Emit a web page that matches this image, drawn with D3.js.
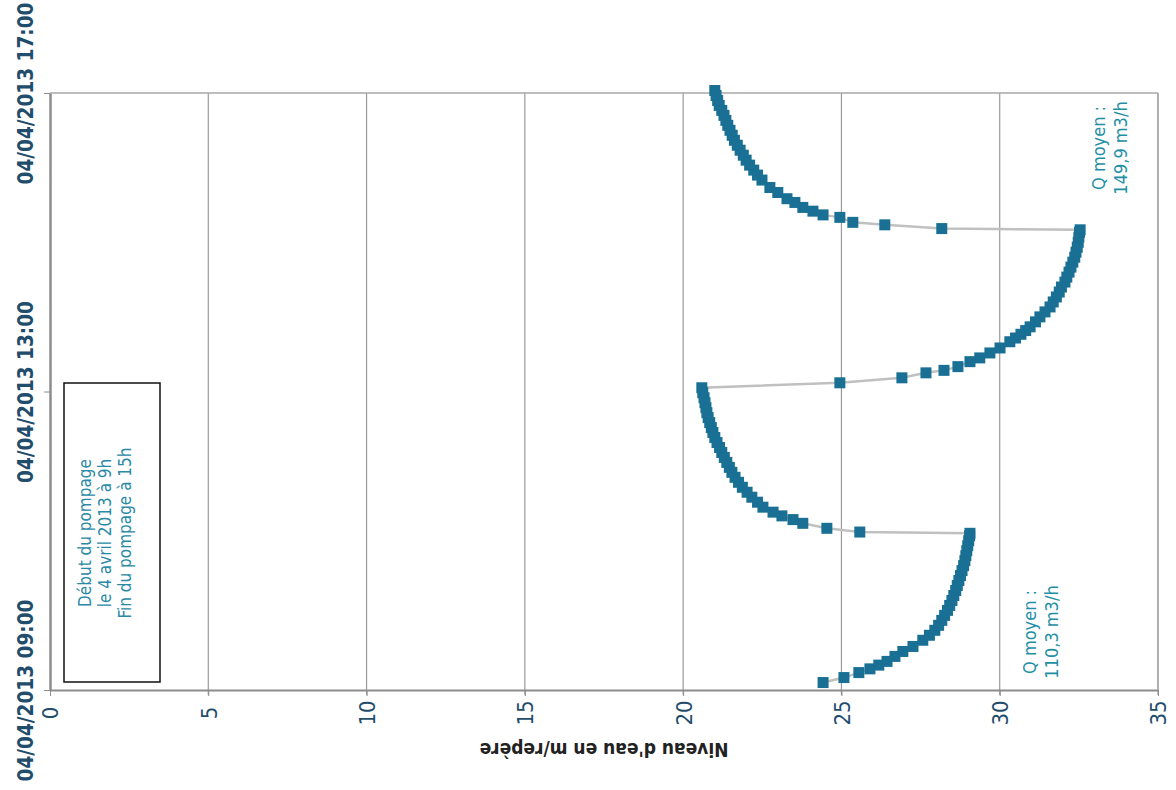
<!DOCTYPE html>
<html>
<head>
<meta charset="utf-8">
<script src="https://cdn.jsdelivr.net/npm/d3@7"></script>
<style>
  html, body { margin: 0; padding: 0; background: #fff; }
  svg { display: block; }
  text { font-family: "DejaVu Sans Condensed", "DejaVu Sans", sans-serif; font-stretch: condensed; }
</style>
</head>
<body>
<svg id="chart" width="1176" height="790"></svg>
<script>
// ---- data (minutes after 04/04/2013 09:00, water level in m/repère) ----
const minutes = [
  6,10,14,17,20,23,27,31,35,40,44,48,52,56,60,64,68,72,76,80,84,88,92,96,100,104,108,112,116,120,124,126,
  127,130,134,137,140,143,147,151,155,159,163,167,171,175,179,183,187,191,195,199,203,207,211,215,219,223,227,231,235,239,243,
  247,251,255,257,260,264,267,271,275,280,283,286,289,292,296,300,304,308,312,316,320,324,328,332,336,340,344,348,352,356,360,364,368,370,
  371,374,376,380,382,385,388,392,395,400,404,410,414,418,422,426,430,434,438,442,446,450,454,458,462,466,470,474,478,482
];
const levels = [
  24.42,25.08,25.55,25.9,26.18,26.44,26.69,26.94,27.26,27.57,27.78,27.95,28.07,28.17,28.26,28.35,28.42,28.49,28.55,28.61,28.66,28.71,28.76,28.81,28.86,28.9,28.93,28.96,28.99,29.02,29.05,29.06,
  25.58,24.54,23.78,23.47,23.12,22.84,22.52,22.35,22.17,22.02,21.87,21.75,21.64,21.54,21.46,21.38,21.3,21.22,21.15,21.07,21.0,20.94,20.89,20.84,20.79,20.75,20.72,20.69,20.66,20.62,20.59,
  24.95,26.91,27.67,28.24,28.68,29.06,29.37,29.69,30.01,30.32,30.5,30.67,30.82,30.96,31.13,31.27,31.43,31.59,31.69,31.79,31.88,31.95,32.06,32.12,32.19,32.25,32.31,32.37,32.41,32.45,32.48,32.5,32.52,32.54,
  28.17,26.37,25.36,24.95,24.42,24.1,23.78,23.53,23.28,22.99,22.74,22.49,22.35,22.23,22.1,21.99,21.9,21.8,21.71,21.62,21.55,21.48,21.41,21.35,21.29,21.22,21.14,21.09,21.04,21.0
];
const levelTicks = [0, 5, 10, 15, 20, 25, 30, 35];
const timeTicks = ["2013-04-04T09:00", "2013-04-04T13:00", "2013-04-04T17:00"];
const axisTitle = "Niveau d'eau en m/repère";
const noteLines = ["Début du pompage", "le 4 avril 2013 à 9h", "Fin du pompage à 15h"];
const q1Lines = ["Q moyen :", "110,3 m3/h"];
const q2Lines = ["Q moyen :", "149,9 m3/h"];

// ---- layout ----
const svg = d3.select("#chart");
const L = 50, R = 1158, T = 93, B = 690;
const t0 = new Date(2013, 3, 4, 9, 0);
const parse = d3.timeParse("%Y-%m-%dT%H:%M");
const x = d3.scaleLinear().domain([0, 35]).range([L, R]);
const y = d3.scaleTime().domain([parse(timeTicks[0]), parse(timeTicks[2])]).range([B, T]);
const data = minutes.map((m, i) => ({ time: d3.timeMinute.offset(t0, m), level: levels[i] }));

svg.append("rect").attr("width", 1176).attr("height", 790).attr("fill", "#fff");

// vertical gridlines
svg.append("g").selectAll("line").data(levelTicks.slice(1)).join("line")
  .attr("x1", d => x(d)).attr("x2", d => x(d))
  .attr("y1", T).attr("y2", B + 5)
  .attr("stroke", "#9a9a9a").attr("stroke-width", 1.2);

// frame top
svg.append("line").attr("x1", L).attr("x2", R).attr("y1", T).attr("y2", T)
  .attr("stroke", "#a8a8a8").attr("stroke-width", 1.5);

// bottom axis (level)
const gx = svg.append("g").attr("transform", `translate(0,${B})`)
  .call(d3.axisBottom(x).tickValues(levelTicks).tickSize(6).tickSizeOuter(0));
gx.select(".domain").attr("stroke", "#8c8c8c").attr("stroke-width", 2);
gx.selectAll(".tick line").attr("stroke", "#8c8c8c");
gx.selectAll(".tick text")
  .attr("transform", "rotate(-90)")
  .attr("x", -23).attr("y", 0).attr("dy", "0.36em")
  .attr("text-anchor", "middle")
  .attr("fill", "#1f4d6b").attr("font-size", 22).attr("font-weight", 500);

// left axis (time)
const gy = svg.append("g").attr("transform", `translate(${L},0)`)
  .call(d3.axisLeft(y).tickValues(timeTicks.map(parse)).tickSize(6).tickSizeOuter(0)
    .tickFormat(d3.timeFormat("%d/%m/%Y %H:%M")));
gy.select(".domain").attr("stroke", "#8c8c8c").attr("stroke-width", 2.5);
gy.selectAll(".tick line").attr("stroke", "#8c8c8c");
gy.selectAll(".tick text")
  .attr("transform", "rotate(-90)")
  .attr("x", 0).attr("y", -25).attr("dy", "0.36em")
  .attr("text-anchor", "middle")
  .attr("fill", "#1f4d6b").attr("font-size", 21).attr("font-weight", 600)
  .attr("textLength", 182).attr("lengthAdjust", "spacingAndGlyphs");

// axis title (upside down)
svg.append("text")
  .attr("transform", `translate(${(L + R) / 2},750) rotate(180)`)
  .attr("text-anchor", "middle").attr("dy", "0.36em")
  .attr("fill", "#222").attr("font-size", 19).attr("font-weight", 700)
  .text(axisTitle);

// right border
svg.append("line").attr("x1", R).attr("x2", R).attr("y1", T).attr("y2", B)
  .attr("stroke", "#a8a8a8").attr("stroke-width", 1.5);

// data line
svg.append("path").datum(data)
  .attr("fill", "none").attr("stroke", "#c0c0c0").attr("stroke-width", 2.5)
  .attr("d", d3.line().x(d => x(d.level)).y(d => y(d.time)));

// markers
const ms = 11;
svg.append("g").selectAll("rect").data(data).join("rect")
  .attr("x", d => x(d.level) - ms / 2).attr("y", d => y(d.time) - ms / 2)
  .attr("width", ms).attr("height", ms)
  .attr("fill", "#197094");

// annotation box
svg.append("rect").attr("x", 64).attr("y", 383).attr("width", 96).attr("height", 299)
  .attr("fill", "#fff").attr("stroke", "#111").attr("stroke-width", 1.5);
svg.append("text")
  .attr("transform", "translate(85,533) rotate(-90)")
  .attr("text-anchor", "middle").attr("fill", "#2a8aa6").attr("font-size", 17)
  .selectAll("tspan").data(noteLines).join("tspan")
  .attr("x", 0).attr("dy", (d, i) => i === 0 ? "0.36em" : "1.18em").text(d => d);

// Q labels
function qLabel(lines, cx, cy) {
  svg.append("text")
    .attr("transform", `translate(${cx},${cy}) rotate(-90)`)
    .attr("text-anchor", "middle").attr("fill", "#1f8fa6").attr("font-size", 18)
    .selectAll("tspan").data(lines).join("tspan")
    .attr("x", 0).attr("dy", (d, i) => i === 0 ? "0.36em" : "1.2em").text(d => d);
}
qLabel(q1Lines, 1030, 632);
qLabel(q2Lines, 1099, 148);
</script>
</body>
</html>
